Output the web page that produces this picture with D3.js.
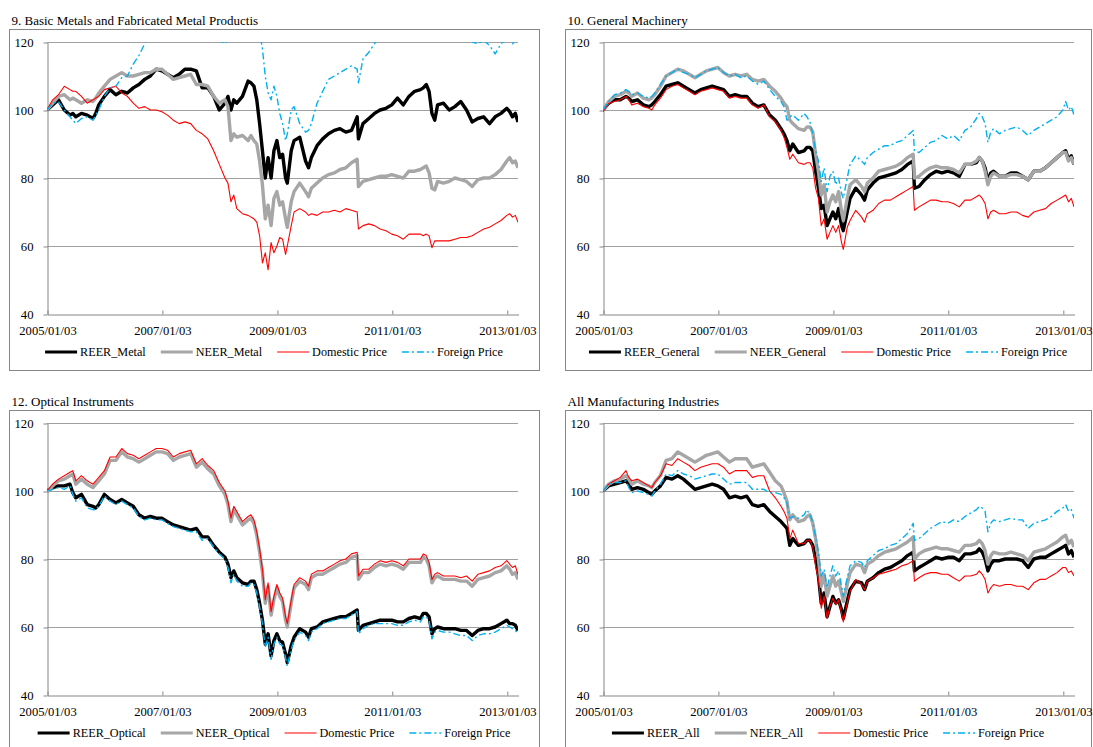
<!DOCTYPE html>
<html>
<head>
<meta charset="utf-8">
<script src="https://cdn.jsdelivr.net/npm/d3@7"></script>
<style>
  body { margin: 0; background: #fff; }
  svg text { font-family: "Liberation Serif", "Times New Roman", serif; fill: #000; }
</style>
</head>
<body>
<svg id="chart" width="1093" height="747"></svg>
<script>
// Observation dates shared by every panel
const dates = [
  "2005-01-03","2005-02-08","2005-03-17","2005-04-23","2005-05-29","2005-06-16","2005-07-05","2005-08-10","2005-09-16","2005-10-22","2005-11-09","2005-11-28",
  "2006-01-03","2006-02-08","2006-03-17","2006-04-23","2006-05-29","2006-07-05","2006-08-10","2006-09-16","2006-10-22","2006-11-28",
  "2007-01-03","2007-02-08","2007-03-17","2007-04-23","2007-05-29","2007-07-05","2007-08-10","2007-09-16","2007-10-22","2007-11-28",
  "2008-01-03","2008-02-08","2008-02-27","2008-03-17","2008-04-04","2008-04-23","2008-05-29","2008-07-04","2008-07-22","2008-08-10","2008-08-28","2008-09-15","2008-10-03","2008-10-21","2008-11-08","2008-11-27","2008-12-15",
  "2009-01-03","2009-01-21","2009-02-08","2009-02-27","2009-03-10","2009-04-04","2009-04-22","2009-05-28","2009-07-04","2009-07-23","2009-08-10","2009-09-15","2009-10-21","2009-11-27",
  "2010-01-03","2010-02-08","2010-03-17","2010-04-22","2010-05-28","2010-06-05","2010-07-04","2010-08-10","2010-09-15","2010-10-21","2010-11-27",
  "2011-01-03","2011-02-08","2011-03-17","2011-04-22","2011-05-28","2011-07-04","2011-07-22","2011-08-10","2011-08-28","2011-09-15","2011-10-03","2011-10-21","2011-11-27",
  "2012-01-03","2012-02-08","2012-03-16","2012-04-22","2012-05-28","2012-07-03","2012-08-09","2012-09-15","2012-10-21","2012-11-27",
  "2013-01-03","2013-01-21","2013-02-08","2013-02-26","2013-03-15"
];
const startDate = "2005-01-03";
const endDate = "2013-03-15";
const xTickDates = ["2005-01-03","2007-01-03","2009-01-03","2011-01-03","2013-01-03"];
const yTicks = [40, 60, 80, 100, 120];

// 9. Basic Metals and Fabricated Metal Products
const metalREER = [
  100,101.5,103,100,98.5,99,98,99,98.5,97.5,99,101.5,
  104,106,104.5,105.5,105,106.5,107.5,109,110,112,
  111.5,110.5,109.5,110.5,112,112,111.5,106.5,106.5,104,
  100,102,104,100,103,102,104,108.5,108,107,103,96,88,80,86,80,88,
  91,86,87,80,78.5,88,91,92,85,83,86,89.5,91.5,93,
  94,94.5,93.5,94,98,91.5,96,97.5,99,100,100.5,
  101.5,103.5,101.5,104,105.5,106,106.5,107.5,105.5,99,97,101.5,102,
  100,101,102.5,100,96.5,97.5,98,96,98,99,
  100.5,99.5,98,99,96.5
];
const metalNEER = [
  100,102,104,104.5,103,103.5,103,102,103,102.5,103.5,105,
  107,109,110,111,110,110,110.5,111,111,112,
  112,110.5,109,109.5,110,110.5,107.5,107.5,107,104,
  102,103,101,91,93,92,92.5,91,92.5,91,90,85,78,68,72,66,74,
  76,72,73,68,65.5,73,76,78.5,76,74.5,77,78.5,80,81,
  81.5,82.5,83,84.5,85.5,77.5,79,79.5,80,80.5,80.5,
  81,80.5,80,82,82,82.5,83,83.5,81.5,77,76.5,79,78.5,
  79,80,79.5,79,77.5,79.5,80,80,81,82.5,
  85,86,84.5,85,83
];
const metalDomestic = [
  100,103,104.5,107,106,105.5,105.5,104,102,103,103.5,104,
  106,106.5,107,105,104,102,100.5,101,100,100,
  99.5,98.5,97,96,96.5,96,94,93,91.5,88,
  84,80,78.5,73,75,71,69.5,69,68.5,68,67,63,55,58,53,61,58,
  60,62.5,62,57.5,60,66,70,71,70,69,69.5,69,70,70,
  70.5,70,71,70.5,70,65,66,66.5,66,65,64.5,
  63.5,63,62,63.5,63.5,63.5,63,63.5,63,59.5,61.5,61.5,61.5,
  61.5,62,62.5,62.5,63,64,65,65.5,66.5,67.5,
  69,69.5,68.5,69,67
];
const metalForeign = [
  100,102,102.5,100,98,97,96,97.5,98,97,98.5,100,
  104,106.5,107,109.5,110,113.5,116,119.5,123,126,
  128,127,125,126,128,129,126,125,124,122,
  120.5,119.5,120.5,122,126,128,130,133,133,130,127,123,118,110,105,103,107,
  104,99,96,91,93,100,101,96,93.5,94,96,102,105.5,109,
  110,111,112,113,112,108,115,117,119.5,122,123,
  125,127,126,129,131,132,133,134,131,124,123,125,126,
  124,125,127,123,120,119.5,120.5,119,116.5,119.5,
  121,120.5,119.5,120.5,120
];

// 10. General Machinery
const generalREER = [
  100,102,103,103,104,103.5,102.5,103,101.5,101,101.5,102.5,
  104.5,107,107.5,108,107,106,105,106,106.5,107,
  106.5,106,104,104.5,104,104,102,101,101.5,98.5,
  97,94.5,93,91,88,90,87.5,88,89,89,88,82,77,71,72,66,68,
  70,68,71,66,64.5,70,74,77,75,73.5,76.5,78.5,80,80.5,
  81,81.5,82.5,84,85,77,77.5,79.5,81,82,81.5,
  82,81.5,80.5,84,84,84.5,86,85,83,79,81.5,82,80.5,
  80.5,81.5,81.5,80.5,79.5,82,82,83,84.5,86,
  87.5,88,85.5,86.5,84
];
const generalNEER = [
  100,102.5,104,104.5,105.5,105,104,105,103.5,103,103.5,104.5,
  107,110,111,112,111.5,110.5,109.5,110.5,111.5,112,
  112.5,111,110,110.5,110,110.5,109,108.5,109,107,
  105.5,103.5,102,101,97,96,94.5,94,95,95,93.5,87,82,75,78,70,73,
  75,73,76,70,67.5,74,78,79.5,77.5,76,78.5,80,82,82.5,
  83,83.5,84.5,86,87,80,80.5,82,83,83.5,83,
  83,82.5,81.5,84,84,85,86,85,82,78,80.5,81.5,80.5,
  80.5,81,81,80.5,79.5,82,82,83,84.5,86,
  87.5,87.5,85,86,84
];
const generalDomestic = [
  99.5,102,102.5,103,104,103,101.5,102,101,100.5,100,101.5,
  103.5,106,107,107.5,106.5,105.5,104.5,105.5,106,106.5,
  106,105.5,103.5,104,103.5,103.5,101.5,100.5,101.5,98,
  96.5,94,92,89,85.5,87,84.5,84,84.5,84.5,83,77,74,66,68,62,64,
  66,64,66,61,59,65.5,67.5,70.5,68.5,67,69.5,70.5,72.5,73.5,
  73.5,74.5,75.5,76.5,77.5,70.5,71.5,72.5,73.5,73.5,73,
  73,72.5,71.5,73.5,73.5,74.5,75,74,72.5,68,70,70.5,69.5,
  69.5,70,70,69,68.5,70,70.5,71,72.5,73.5,
  74.5,75,73,74,71.5
];
const generalForeign = [
  100,102.5,104.5,105,106,105.5,104.5,105,104,103.5,104,105,
  107.5,110,111,112,111,110.5,109.5,110.5,111.5,112,
  112.5,111,110,110.5,109.5,110,108.5,107.5,108.5,106,
  104,102.5,101,97,98,98.5,97,99,98,96.5,93,88,85,79,83,76,80.5,
  82,78,80,75.5,74,80,84,86.5,85,84,86,87.5,88.5,89.5,
  89.5,90.5,91,92.5,94,88,87.5,89,90.5,91,92.5,
  91.5,92.5,91,94,95,97.5,99,98,96,90.5,93.5,94.5,93,
  94,94.5,95,94,92.5,94,95,96,97,98,
  100,102.5,100,101,98.5
];

// 12. Optical Instruments
const opticalREER = [
  100,101,101.5,101.5,102,99.5,98,99,96,95.5,95,96,
  99,97.5,96.5,97.5,96.5,95.5,93,92,92.5,92,
  92,91,90,89.5,89,88.5,89,86.5,86.5,84,
  82,80.5,78.5,74.5,76.5,74.5,73,72.5,73.5,73.5,71,67,62,55,58,51.5,56,
  58,56,55.5,52,49.5,54.5,57,59.5,58.5,57,59.5,60,61.5,62,
  62.5,63,63,64,65,59,60.5,61,61.5,62,62,
  62,61.5,61.5,62.5,63,62.5,64,64,63,58,59.5,60,59.5,
  59.5,59.5,59,59,57.5,59,59.5,59.5,60,61,
  62,61,61,60.5,59
];
const opticalNEER = [
  99.5,101.5,103,103.5,104.5,105,102,103.5,102,101,102,103,
  105,109,109,111.5,110,109.5,108.5,109.5,110.5,111.5,
  111.5,111,109,110,110.5,111,107,108.5,106.5,105,
  101.5,99,96,91,94.5,93,90,91.5,92,90.5,87,82,76,67,72,63.5,68,
  71.5,69,67.5,62,60,67,71.5,73.5,72.5,71,74.5,75.5,75.5,76.5,
  77.5,78.5,79,80.5,81,74,76,76,77.5,78.5,78,
  78.5,78,77,79,79,79,80.5,80,78,73,74.5,75,74,
  74,74,73.5,73.5,72,74,74.5,75,76,76.5,
  78,77,75.5,76,74
];
const opticalDomestic = [
  100,102,103.5,104.5,105.5,106,103,104.5,103,102,103,104,
  106,110,110,112.5,111,110.5,109.5,110.5,111.5,112.5,
  112.5,112,110,111,111.5,112,108,109.5,107.5,106,
  102.5,100,97,92,95.5,94,91,92.5,93,91.5,88,83,77,68,73,64.5,69,
  72.5,70,68.5,63,61,68,72.5,74.5,73.5,72,75.5,76.5,76.5,77.5,
  78.5,79.5,80,81.5,82,75,77,77,78.5,79.5,79,
  79.5,79,78,80,80,80,81.5,81,79,74,75.5,76,75,
  75,75,74.5,75,73.5,75.5,76,76.5,77.5,78,
  79.5,78.5,77.5,78,75.5
];
const opticalForeign = [
  100,100.5,101,100.5,101.5,99,97,98,95,94.5,94.5,95.5,
  98.5,97,96,97,96,95,92.5,91.5,92,91.5,
  91.5,90.5,89.5,89,88.5,88,88,85.5,86,83.5,
  81.5,80,77.5,73,75.5,73.5,72,72,73,72.5,70,66,61,54,57,50.5,55,
  57,55,54.5,51,48.5,53.5,56,58.5,57.5,56,58.5,59.5,61,61.5,
  62,62.5,62.5,63.5,64.5,58,59.5,60.5,61,61,61,
  61,60.5,60.5,61.5,62,61.5,63,63,62,56.5,58.5,59,58.5,
  58.5,58,57.5,57.5,56,57.5,58,58,58.5,59.5,
  60.5,60,59.5,59,58
];

// All Manufacturing Industries
const allREER = [
  100,101.5,102,102.5,103,102,100.5,101,100.5,99.5,99,100,
  101.5,104,103.5,104.5,103.5,102,100.5,101,101.5,102,
  101.5,100.5,98,98.5,98,98.5,96,95.5,96,94,
  92.5,91,90,89,84,86,84,84.5,85.5,85.5,84,80,75,67,70,63,66,
  69,67,68,65,62.5,67.5,71,73.5,73,71,73.5,74.5,76,77,
  77.5,78.5,79.5,81,82,76.5,77.5,78.5,79.5,80.5,80,
  80.5,80.5,79.5,81.5,81.5,82,83,82,80,76.5,78.5,79.5,79.5,
  80,80,80,79.5,77.5,80,80.5,80.5,81.5,82.5,
  83.5,84,81.5,82.5,80.5
];
const allNEER = [
  100,102,103,103.5,104.5,103.5,102,103,102,101.5,101,102.5,
  104.5,109,109.5,111.5,110.5,109.5,108.5,109.5,110.5,111,
  111.5,110,108.5,109.5,109.5,109.5,107,107.5,108,105.5,
  103,101.5,99.5,97,91.5,93,91,91.5,92.5,93,90.5,86,80,72,75.5,69,72,
  75,72,73.5,70,67.5,72.5,76,78.5,78,76,78.5,79.5,81,82,
  82.5,83,84,85,86.5,80,81.5,82.5,83,83.5,83,
  83,82.5,82,84,84,84.5,85.5,84.5,82.5,78.5,81,82,81.5,
  81.5,82,81.5,81,79.5,82,82.5,83,84,85,
  86.5,87,84.5,85.5,83.5
];
const allDomestic = [
  100,102,103,104,106,104,103,103.5,102.5,101.5,101,102.5,
  104.5,108,107.5,109.5,108.5,107.5,106,107,107.5,108,
  108,107,105,106,106,106,104,104.5,104.5,100,
  98,95.5,94,92,86,88.5,84.5,84.5,85.5,85.5,83.5,78,74,65.5,69,62.5,66,
  68.5,66.5,68,64,61.5,67,70.5,74,72.5,71,73.5,74.5,75.5,76,
  76.5,77,78,78.5,79.5,73.5,74.5,75.5,76,76,75.5,
  75.5,74.5,73.5,75,75,75.5,76.5,75.5,74,70,71.5,72.5,72,
  72.5,72.5,72,72,71,73,74,74,75,76,
  77.5,77.5,76,76.5,75
];
const allForeign = [
  100,102,102.5,102.5,103,101,99.5,100,99.5,99,98.5,100,
  102,105,104.5,106,105,104.5,103.5,104,104.5,105,
  105,103.5,102,102.5,102.5,102.5,100.5,100.5,100.5,99.5,
  99.5,99,98,96.5,92,92.5,92,93,94.5,93,91,86.5,82,75,77,71.5,75,
  78,75,76.5,72,69,74.5,78,79.5,79,77.5,79.5,81,82.5,83,
  84,84.5,86,87.5,90.5,85.5,86,87.5,89,90,91,
  90.5,91.5,91,92.5,93.5,94.5,95.5,95,94,88,90.5,91.5,91,
  91.5,92,91.5,91.5,89,90.5,91,91.5,92.5,94,
  95,96,94,94.5,92
];

const panelTitles = [
  "9. Basic Metals and Fabricated Metal Productis",
  "10. General Machinery",
  "12. Optical Instruments",
  "All Manufacturing Industries"
];
const seriesLabels = [
  ["REER_Metal", "NEER_Metal", "Domestic Price", "Foreign Price"],
  ["REER_General", "NEER_General", "Domestic Price", "Foreign Price"],
  ["REER_Optical", "NEER_Optical", "Domestic Price", "Foreign Price"],
  ["REER_All", "NEER_All", "Domestic Price", "Foreign Price"]
];
const panelSeries = [
  [metalREER, metalNEER, metalDomestic, metalForeign],
  [generalREER, generalNEER, generalDomestic, generalForeign],
  [opticalREER, opticalNEER, opticalDomestic, opticalForeign],
  [allREER, allNEER, allDomestic, allForeign]
];

// Line styles: REER, NEER, domestic price, foreign price
const styles = [
  { stroke: "#000000", width: 3.4, dash: null, legendWidth: 3 },
  { stroke: "#a6a6a6", width: 3.4, dash: null, legendWidth: 3 },
  { stroke: "#ff0000", width: 1.1, dash: null, legendWidth: 1.2 },
  { stroke: "#00b0f0", width: 1.4, dash: "7,3,2,3", legendWidth: 1.6 }
];

// Panel frames
const frames = [
  { bx: 9,   by: 29,  bw: 530, bh: 341 },
  { bx: 565, by: 29,  bw: 526, bh: 341 },
  { bx: 9,   by: 410, bw: 530, bh: 360 },
  { bx: 565, by: 410, bw: 526, bh: 360 }
];

const parse = d3.timeParse("%Y-%m-%d");
const fmt = d3.timeFormat("%Y/%m/%d");
const parsedDates = dates.map(parse);
const svg = d3.select("#chart");
const axisColor = "#868686";
const gridColor = "#a0a0a0";

frames.forEach((f, pi) => {
  const left = f.bx + 38, right = left + 471;
  const top = f.by + 13, bottom = top + 272;

  const x = d3.scaleTime().domain([parse(startDate), parse(endDate)]).range([left, right]);
  const y = d3.scaleLinear().domain([40, 120]).range([bottom, top]);

  const g = svg.append("g");

  // frame and title
  g.append("rect")
    .attr("x", f.bx + 0.5).attr("y", f.by + 0.5)
    .attr("width", f.bw).attr("height", f.bh)
    .attr("fill", "none").attr("stroke", axisColor).attr("stroke-width", 1);
  g.append("text")
    .attr("x", f.bx + 2.5).attr("y", f.by - 4.5)
    .attr("font-size", 13)
    .text(panelTitles[pi]);

  // horizontal gridlines
  g.append("g").selectAll("line")
    .data(yTicks.filter(v => v > 40))
    .join("line")
    .attr("x1", left).attr("x2", right)
    .attr("y1", d => Math.round(y(d)) + 0.5).attr("y2", d => Math.round(y(d)) + 0.5)
    .attr("stroke", gridColor).attr("stroke-width", 1);

  // y axis
  const yAxis = g.append("g")
    .attr("transform", `translate(${left + 0.5},0.5)`)
    .call(d3.axisLeft(y).tickValues(yTicks).tickSizeInner(4).tickSizeOuter(0).tickPadding(10));
  yAxis.selectAll("path,line").attr("stroke", axisColor);
  yAxis.selectAll("text").attr("font-size", 12.7).attr("fill", "#000");

  // x axis
  const xAxis = g.append("g")
    .attr("transform", `translate(0.5,${Math.round(bottom) + 0.5})`)
    .call(d3.axisBottom(x).tickValues(xTickDates.map(parse)).tickFormat(fmt)
      .tickSizeInner(-4).tickSizeOuter(0).tickPadding(12));
  xAxis.selectAll("path,line").attr("stroke", axisColor);
  xAxis.selectAll("text").attr("font-size", 12.6).attr("fill", "#000");

  // series, clipped to the plot area
  const clipId = "clip" + pi;
  svg.append("clipPath").attr("id", clipId)
    .append("rect").attr("x", left).attr("y", top).attr("width", right - left).attr("height", bottom - top);

  const line = d3.line()
    .x((d, i) => x(parsedDates[i]))
    .y(d => y(d));

  const lines = g.append("g").attr("clip-path", `url(#${clipId})`);
  panelSeries[pi].forEach((vals, si) => {
    const s = styles[si];
    lines.append("path")
      .datum(vals)
      .attr("d", line)
      .attr("fill", "none")
      .attr("stroke", s.stroke)
      .attr("stroke-width", s.width)
      .attr("stroke-linejoin", "round")
      .attr("stroke-dasharray", s.dash);
  });

  // legend, centred under the plot within the frame
  const legendY = bottom + 38;
  const legend = g.append("g");
  const items = [];
  seriesLabels[pi].forEach((label, si) => {
    const item = legend.append("g");
    const s = styles[si];
    item.append("line")
      .attr("x1", 0).attr("x2", 32)
      .attr("y1", 0).attr("y2", 0)
      .attr("stroke", s.stroke)
      .attr("stroke-width", s.legendWidth)
      .attr("stroke-dasharray", s.dash);
    const t = item.append("text")
      .attr("x", 35).attr("y", 4.3)
      .attr("font-size", 12.2)
      .text(label);
    items.push({ item, w: 35 + t.node().getComputedTextLength() });
  });
  const gap = 15;
  const total = d3.sum(items, d => d.w) + gap * (items.length - 1);
  let cx = f.bx + f.bw / 2 - total / 2;
  items.forEach(d => {
    d.item.attr("transform", `translate(${cx},${legendY})`);
    cx += d.w + gap;
  });
});
</script>
</body>
</html>
